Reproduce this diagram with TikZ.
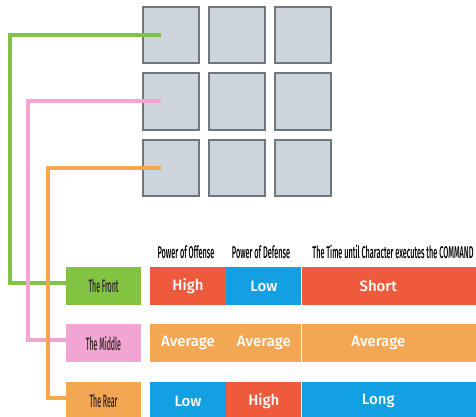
\documentclass[tikz,border=0pt]{standalone}
\usepackage{fontspec}
\usetikzlibrary{positioning}
\setsansfont{Fira Sans}
\newfontfamily\headfont[FakeStretch=0.43]{Fira Sans Medium}
\newfontfamily\rowfont[FakeStretch=0.39]{Fira Sans Medium}
\newfontfamily\cellfont{Fira Sans Medium}

\definecolor{squarefill}{HTML}{CDD5DC}
\definecolor{squareline}{HTML}{70767C}
\definecolor{frontgreen}{HTML}{82C341}
\definecolor{middlepink}{HTML}{F2A5D3}
\definecolor{rearorange}{HTML}{F3A753}
\definecolor{hired}{HTML}{EE5A3C}
\definecolor{lowblue}{HTML}{12A0E2}
\definecolor{labeltext}{HTML}{3A2A2A}

\tikzset{
    square/.style = {draw=squareline, line width=2pt, fill=squarefill, minimum size=56pt, inner sep=0pt},
    rowlabel/.style = {minimum width=75pt, minimum height=38pt, inner sep=0pt, text=labeltext, font=\rowfont\fontsize{18}{18}\selectfont},
    cell/.style = {minimum height=38pt, inner sep=0pt, text=white, font=\cellfont\fontsize{15}{15}\selectfont},
    head/.style = {inner sep=0pt, text=black, font=\headfont\fontsize{17}{17}\selectfont},
    link/.style = {line width=4pt}
}

\begin{document}
\begin{tikzpicture}[x=1pt, y=-1pt]
        \useasboundingbox[fill=white] (0,0) rectangle (476,417);

        \foreach \r in {1,2,3}
            \foreach \c in {1,2,3}
                \node[square] (sq\r\c) at ({170.5+66*(\c-1)},{35+66.5*(\r-1)}) {};

        \node[rowlabel, fill=frontgreen] (Front) at (103.5,286) {The Front};
        \node[rowlabel, fill=middlepink] (Middle) at (103.5,343) {The Middle};
        \node[rowlabel, fill=rearorange] (Rear) at (103.5,401) {The Rear};

        \node[cell, fill=hired, minimum width=76pt] (FrontOffense) at (188,286) {High};
        \node[cell, fill=lowblue, minimum width=75pt] (FrontDefense) [right=0pt of FrontOffense] {Low};
        \node[cell, fill=hired, minimum width=175pt, label={[cell]center:\hspace*{-22pt}Short}] (FrontTime) [right=0pt of FrontDefense] {};

        \node[cell, fill=rearorange, minimum width=76pt] (MiddleOffense) at (188,343) {Average};
        \node[cell, fill=rearorange, minimum width=75pt] (MiddleDefense) [right=0pt of MiddleOffense] {Average};
        \node[cell, fill=rearorange, minimum width=175pt, label={[cell]center:\hspace*{-22pt}Average}] (MiddleTime) [right=0pt of MiddleDefense] {};

        \node[cell, fill=lowblue, minimum width=76pt] (RearOffense) at (188,401) {Low};
        \node[cell, fill=hired, minimum width=75pt] (RearDefense) [right=0pt of RearOffense] {High};
        \node[cell, fill=lowblue, minimum width=175pt, label={[cell]center:\hspace*{-22pt}Long}] (RearTime) [right=0pt of RearDefense] {};

        \node[head] (OffenseHead) at (186,252) {Power of Offense};
        \node[head] (DefenseHead) at (261,252) {Power of Defense};
        \node[head] (TimeHead) at (393,252) {The Time until Character executes the COMMAND};

        \draw[link, frontgreen] ([xshift=-10pt]sq11.center) -- ++(-151,0) |- ([yshift=3pt]Front.west);
        \draw[link, middlepink] ([xshift=-10pt]sq21.center) -- ++(-133,0) |- ([yshift=3pt]Middle.west);
        \draw[link, rearorange] ([xshift=-10pt]sq31.center) -- ++(-113,0) |- ([yshift=3pt]Rear.west);
    \end{tikzpicture}
\end{document}
